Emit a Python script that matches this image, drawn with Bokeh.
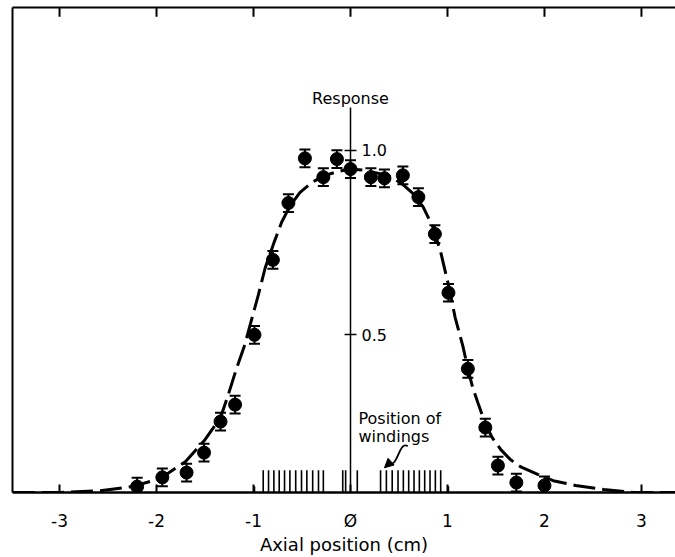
from bokeh.plotting import figure
from bokeh.models import (LinearAxis, FixedTicker, Whisker, TeeHead, ColumnDataSource,
                          Label, Arrow, NormalHead, Range1d)
from bokeh.embed import file_html
from bokeh.resources import INLINE

# ---------------- data ----------------
pos_x = [-2.20, -1.94, -1.69, -1.51, -1.34, -1.19, -0.99, -0.80, -0.64, -0.47, -0.28, -0.14,
         0.00, 0.21, 0.35, 0.54, 0.70, 0.87, 1.01, 1.21, 1.39, 1.52, 1.71, 2.00]
response = [0.089, 0.114, 0.127, 0.181, 0.265, 0.311, 0.500, 0.703, 0.857, 0.978, 0.927, 0.976,
            0.949, 0.927, 0.924, 0.932, 0.873, 0.773, 0.614, 0.408, 0.249, 0.146, 0.100, 0.092]
err = [0.024, 0.024, 0.024, 0.024, 0.024, 0.024, 0.024, 0.024, 0.024, 0.024, 0.024, 0.024,
       0.024, 0.024, 0.024, 0.024, 0.024, 0.024, 0.024, 0.024, 0.024, 0.024, 0.024, 0.024]

curve_x = [-3.48, -2.99, -2.58, -2.25, -1.96, -1.70, -1.50, -1.34, -1.26, -1.18, -1.09, -1.02,
           -0.95, -0.88, -0.79, -0.71, -0.62, -0.52, -0.39, -0.26, -0.12, -0.01, 0.13, 0.28,
           0.43, 0.55, 0.64, 0.75, 0.85, 0.93, 1.01, 1.08, 1.16, 1.21, 1.26, 1.32, 1.39, 1.46,
           1.55, 1.65, 1.75, 1.93, 2.09, 2.32, 2.61, 2.92, 3.36]
curve_y = [0.073, 0.073, 0.078, 0.089, 0.111, 0.157, 0.216, 0.276, 0.338, 0.405, 0.473, 0.541,
           0.608, 0.681, 0.749, 0.805, 0.851, 0.886, 0.914, 0.932, 0.943, 0.949, 0.946, 0.938,
           0.927, 0.905, 0.884, 0.846, 0.792, 0.724, 0.635, 0.546, 0.468, 0.408, 0.357, 0.311,
           0.259, 0.222, 0.189, 0.162, 0.143, 0.122, 0.105, 0.092, 0.081, 0.073, 0.073]

wind_tall = [-0.90, -0.845, -0.79, -0.735, -0.68, -0.625, -0.565, -0.505, -0.45, -0.39, -0.33,
             -0.28, -0.08, -0.05, 0.07, 0.31, 0.37, 0.43, 0.49, 0.545, 0.60, 0.655, 0.71, 0.765,
             0.82, 0.875, 0.93]
wind_short = [-0.99, 1.01]

x_ticks = [-3, -2, -1, 0, 1, 2, 3]
x_tick_labels = ["-3", "-2", "-1", "Ø", "1", "2", "3"]
y_ticks = [0.5, 1.0]
y_tick_labels = ["0.5", "1.0"]

baseline = 0.073
y_top = 1.3865
FONT = "DejaVu Sans"

p = figure(width=675, height=557, output_backend="svg", toolbar_location=None,
           x_range=Range1d(-3.485, 3.351), y_range=Range1d(baseline, y_top),
           min_border_left=12, min_border_right=0, min_border_top=7, min_border_bottom=64)
p.outline_line_color = None
p.xgrid.visible = False
p.ygrid.visible = False
p.background_fill_color = "white"

# bottom axis
xa = p.xaxis[0]
xa.ticker = FixedTicker(ticks=x_ticks)
xa.major_label_overrides = {t: l for t, l in zip(x_ticks, x_tick_labels)}
xa.major_tick_in = 8
xa.major_tick_out = 0
xa.major_tick_line_width = 2
xa.minor_tick_line_color = None
xa.axis_line_width = 2.5
xa.major_label_standoff = 18
xa.major_label_text_font = FONT
xa.major_label_text_font_size = "17px"
xa.major_label_text_color = "black"
xa.axis_label = "Axial position (cm)"
xa.axis_label_text_font = FONT
xa.axis_label_text_font_style = "normal"
xa.axis_label_text_font_size = "18px"
xa.axis_label_standoff = 0
xa.axis_label_text_color = "black"

# left axis (line only)
ya = p.yaxis[0]
ya.ticker = FixedTicker(ticks=[])
ya.major_tick_in = 0
ya.major_tick_out = 0
ya.minor_tick_line_color = None
ya.major_label_standoff = 0
ya.axis_line_width = 2

# top axis (line only) + inward tick marks at the same integer positions
top = LinearAxis(ticker=FixedTicker(ticks=[]), major_tick_in=0, major_tick_out=0,
                 minor_tick_line_color=None, axis_line_width=2, major_label_standoff=0)
p.add_layout(top, "above")
p.segment(x0=x_ticks, y0=[y_top] * len(x_ticks), x1=x_ticks,
          y1=[y_top - 0.025] * len(x_ticks), line_color="black", line_width=2)

# central response axis
cen = LinearAxis(fixed_location=0, ticker=FixedTicker(ticks=y_ticks), bounds=(baseline, 1.115),
                 major_tick_in=6, major_tick_out=6, major_tick_line_width=1.5,
                 minor_tick_line_color=None, axis_line_width=1.5,
                 major_label_overrides={t: l for t, l in zip(y_ticks, y_tick_labels)},
                 major_label_text_font=FONT, major_label_text_font_size="16px",
                 major_label_standoff=5, major_label_text_color="black")
p.add_layout(cen, "right")

p.add_layout(Label(x=0, y=1.14, text="Response", text_align="center", text_baseline="middle",
                   text_font=FONT, text_font_size="16px", text_color="black"))

# fitted curve
p.line(curve_x, curve_y, line_width=3, line_color="black", line_dash="22 7")

# windings
p.segment(x0=wind_tall, y0=[baseline] * len(wind_tall), x1=wind_tall,
          y1=[baseline + 0.06] * len(wind_tall), line_color="black", line_width=1.6)
p.segment(x0=wind_short, y0=[baseline] * len(wind_short), x1=wind_short,
          y1=[baseline + 0.017] * len(wind_short), line_color="black", line_width=1.6)

# data points with error bars
src = ColumnDataSource(dict(x=pos_x, y=response,
                            upper=[r + e for r, e in zip(response, err)],
                            lower=[r - e for r, e in zip(response, err)]))
p.add_layout(Whisker(source=src, base="x", upper="upper", lower="lower",
                     line_color="black", line_width=2,
                     upper_head=TeeHead(size=11, line_width=2, line_color="black"),
                     lower_head=TeeHead(size=11, line_width=2, line_color="black")))
p.scatter("x", "y", source=src, size=13, color="black")

# annotation
p.add_layout(Label(x=0.082, y=0.273, text="Position of", text_align="left",
                   text_baseline="middle", text_font=FONT, text_font_size="16px",
                   text_color="black"))
p.add_layout(Label(x=0.082, y=0.224, text="windings", text_align="left",
                   text_baseline="middle", text_font=FONT, text_font_size="16px",
                   text_color="black"))
p.bezier(x0=[0.59], y0=[0.198], x1=[0.40], y1=[0.152], cx0=[0.50], cy0=[0.215],
         cx1=[0.49], cy1=[0.14], line_color="black", line_width=1.8)
p.add_layout(Arrow(x_start=0.40, y_start=0.152, x_end=0.35, y_end=0.140,
                   line_color="black", line_width=1.8,
                   end=NormalHead(size=9, fill_color="black", line_color="black")))

open("out.html", "w").write(file_html(p, INLINE))
